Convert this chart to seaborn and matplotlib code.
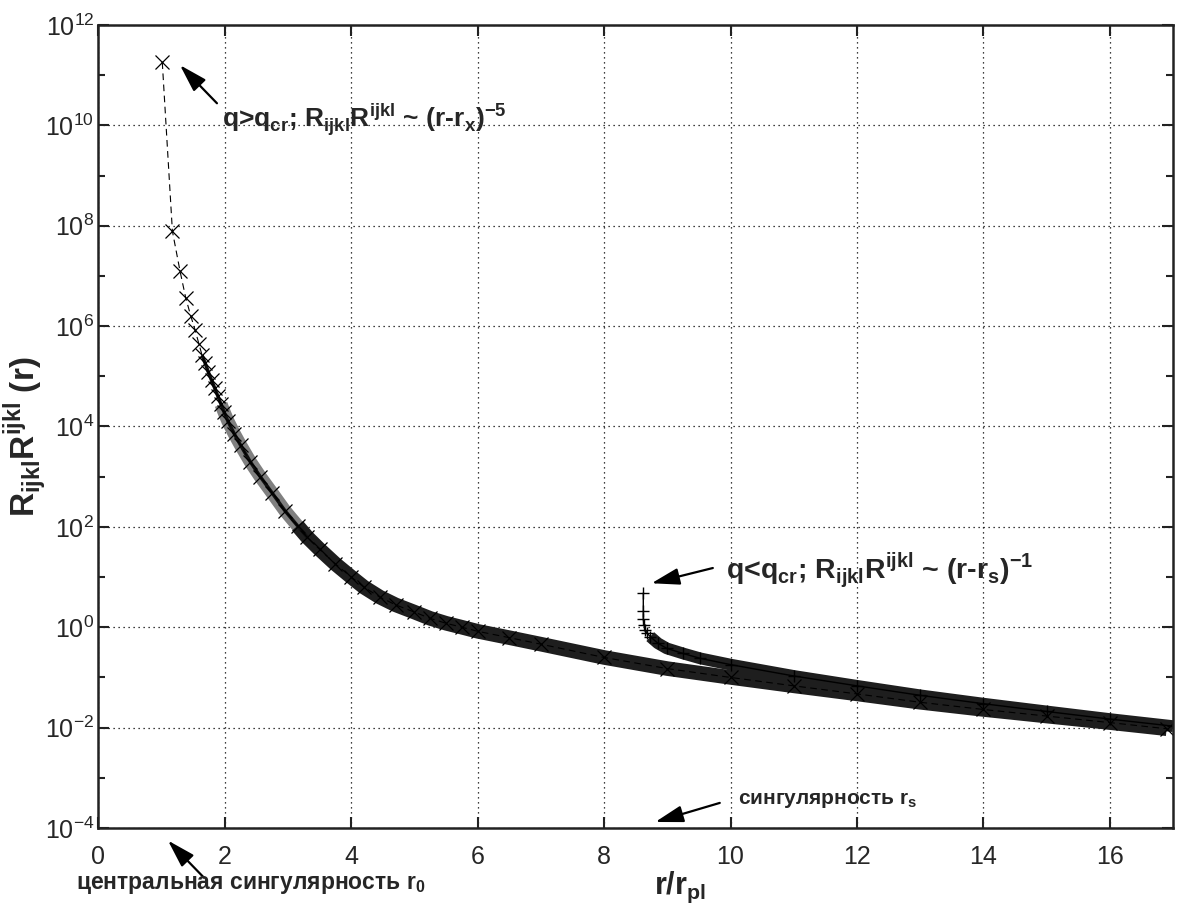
import pandas as pd
import matplotlib
matplotlib.use("Agg")
import matplotlib.pyplot as plt
import seaborn as sns

# -------------------------------
# Data
# -------------------------------

# branch q > q_cr (x markers, dashed line)
r_over = [1.01, 1.17, 1.29, 1.38, 1.46, 1.53, 1.59, 1.64, 1.69, 1.74, 1.79,
          1.84, 1.89, 1.94, 1.99, 2.05, 2.15, 2.25, 2.40, 2.56, 2.75, 2.95,
          3.15, 3.30, 3.50, 3.75, 4.00, 4.20, 4.45, 4.70, 5.00, 5.25, 5.50,
          5.75, 6.00, 6.50, 7.00, 8.00, 9.00, 10.0, 11.0, 12.0, 13.0, 14.0,
          15.0, 16.0, 16.9]
R_over = [1.8e11, 7.8e7, 1.26e7, 3.7e6, 1.6e6, 8.3e5, 4.4e5, 2.6e5, 1.8e5,
          1.2e5, 8.3e4, 5.8e4, 4.0e4, 2.75e4, 1.9e4, 1.26e4, 7.1e3, 4.2e3,
          2.0e3, 1.0e3, 4.7e2, 2.1e2, 1.05e2, 63.0, 35.5, 18.2, 10.0, 6.3,
          4.0, 2.8, 2.0, 1.5, 1.2, 1.0, 0.83, 0.62, 0.46, 0.25, 0.15, 0.10,
          0.068, 0.047, 0.032, 0.023, 0.017, 0.0126, 0.0095]

# branch q < q_cr (+ markers, solid line)
r_under = [8.62, 8.62, 8.62, 8.63, 8.65, 8.68, 8.73, 8.85, 8.99, 9.25, 9.52,
           10.0, 11.0, 12.0, 13.0, 14.0, 15.0, 16.0, 17.0]
R_under = [4.8, 2.1, 1.45, 1.12, 0.89, 0.76, 0.65, 0.48, 0.38, 0.30, 0.24,
           0.18, 0.107, 0.068, 0.044, 0.030, 0.021, 0.0148, 0.0107]

x_ticks = [0, 2, 4, 6, 8, 10, 12, 14, 16]
y_exponents = [-4, -2, 0, 2, 4, 6, 8, 10, 12]
y_minor_exponents = [-3, -1, 1, 3, 5, 7, 9, 11]

over = pd.DataFrame({"r": r_over, "R": R_over})
under = pd.DataFrame({"r": r_under, "R": R_under})

sns.set_style("ticks")
plt.rcParams["font.family"] = ["Liberation Sans", "DejaVu Sans"]

fig = plt.figure(figsize=(11.79, 9.08), dpi=100)
ax = fig.add_axes([0.0835, 0.0881, 0.9114, 0.8844])
ax.set_yscale("log")

# dense part of each branch: markers overlap into a band
band = dict(estimator=None, sort=False, solid_capstyle="butt", ax=ax)
sns.lineplot(data=over[(over["r"] >= 1.9) & (over["r"] <= 3.5)], x="r", y="R",
             color="#808080", lw=9.5, **band)
sns.lineplot(data=over[over["r"] >= 3.15], x="r", y="R",
             color="#1e1e1e", lw=10.5, **band)
sns.lineplot(data=over[(over["r"] >= 1.64) & (over["r"] <= 3.3)], x="r", y="R",
             color="#111111", lw=2.5, **band)
sns.lineplot(data=under[under["r"] >= 8.7], x="r", y="R",
             color="#1e1e1e", lw=8.5, **band)

sns.lineplot(data=over, x="r", y="R", estimator=None, sort=False,
             color="black", lw=0.8, linestyle=(0, (6, 4)), marker="x",
             markersize=9.5, markeredgewidth=0.9, markeredgecolor="black",
             ax=ax)
sns.lineplot(data=under, x="r", y="R", estimator=None, sort=False,
             color="black", lw=1.0, marker="+", markersize=9,
             markeredgewidth=1.0, markeredgecolor="black", ax=ax)

ax.set_xlim(0, 17)
ax.set_ylim(1e-4, 1e12)
ax.set_xticks(x_ticks)
ax.set_xticklabels([str(t) for t in x_ticks])
ax.set_yticks([10.0 ** e for e in y_exponents])
ax.set_yticklabels(["$\\mathdefault{10^{%d}}$" % e for e in y_exponents])
ax.set_yticks([10.0 ** e for e in y_minor_exponents], minor=True)
ax.set_yticklabels([], minor=True)

ax.tick_params(which="both", direction="in", top=True, right=True,
               labelsize=18, width=1.5, color="#222222")
ax.tick_params(which="major", length=8)
ax.tick_params(which="minor", length=5)
ax.tick_params(axis="x", pad=12)
ax.tick_params(axis="y", pad=3)
ax.grid(True, which="major", color="black", lw=0.9, linestyle=(0, (1, 3)))
for s in ax.spines.values():
    s.set_linewidth(1.8)
    s.set_color("#222222")

ax.set_xlabel("r/r$_{\\mathdefault{pl}}$", fontsize=22, fontweight="bold")
ax.xaxis.set_label_coords(0.541, -0.052)
ax.set_ylabel("R$_{\\mathdefault{ijkl}}$R$^{\\mathdefault{ijkl}}$ (r)",
              fontsize=24, fontweight="bold")
ax.yaxis.set_label_coords(-0.046, 0.487)

# -------------------------------
# Annotations
# -------------------------------
arrow = dict(arrowstyle="-|>,head_length=0.9,head_width=0.27", color="black",
             lw=1.6, mutation_scale=19, shrinkA=0, shrinkB=0)

ax.annotate("", xy=(1.29, 10 ** 11.2), xytext=(1.875, 10 ** 10.44),
            arrowprops=arrow)
ax.text(1.95, 10 ** 10.12,
        "q>q$_{\\mathdefault{cr}}$; R$_{\\mathdefault{ijkl}}$"
        "R$^{\\mathdefault{ijkl}}$ ~ (r-r$_{\\mathdefault{x}}$)"
        "$^{\\mathdefault{-5}}$",
        fontsize=19, fontweight="bold", va="center", ha="left")

ax.annotate("", xy=(8.75, 10 ** 0.876), xytext=(9.72, 10 ** 1.18),
            arrowprops=arrow)
ax.text(9.93, 10 ** 1.14,
        "q<q$_{\\mathdefault{cr}}$; R$_{\\mathdefault{ijkl}}$"
        "R$^{\\mathdefault{ijkl}}$ ~ (r-r$_{\\mathdefault{s}}$)"
        "$^{\\mathdefault{-1}}$",
        fontsize=20.5, fontweight="bold", va="center", ha="left")

ax.annotate("", xy=(8.81, 10 ** -3.88), xytext=(9.83, 10 ** -3.50),
            arrowprops=arrow)
ax.text(10.12, 10 ** -3.44, "сингулярность r$_{\\mathdefault{s}}$",
        fontsize=15, fontweight="bold", va="center", ha="left")

ax.annotate("", xy=(1.1, 10 ** -4.25), xytext=(1.67, 10 ** -4.99),
            arrowprops=arrow, annotation_clip=False)
ax.text(-0.36, 10 ** -5.13, "центральная сингулярность r$_{\\mathdefault{0}}$",
        fontsize=16.5, fontweight="bold", va="center", ha="left")

fig.savefig("out.png", dpi=100)
